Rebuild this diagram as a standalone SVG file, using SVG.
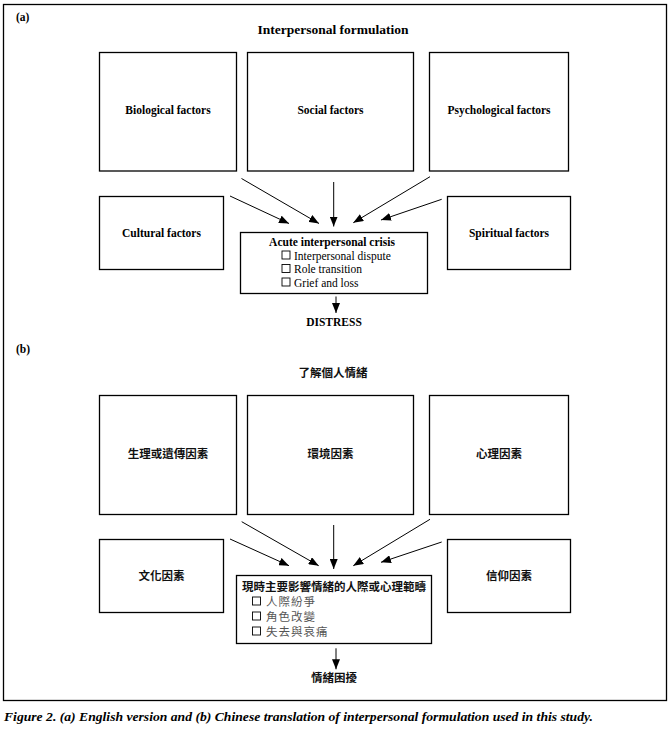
<svg xmlns="http://www.w3.org/2000/svg" width="671" height="730" viewBox="0 0 671 730">
<defs>
<marker id="ah" markerWidth="10" markerHeight="8" refX="10" refY="4" orient="auto" markerUnits="userSpaceOnUse">
<path d="M0,0 L10,4 L0,8 Z" fill="#000"/>
</marker>
<style>
.box{fill:#fff;stroke:#000;stroke-width:1.3}
.frame{fill:none;stroke:#000;stroke-width:1.3}
.en{font-family:"Liberation Serif","Times New Roman",serif;font-size:11.5px;fill:#000}
.b{font-weight:bold}
.ttl{font-family:"Liberation Serif","Times New Roman",serif;font-size:13.5px;font-weight:bold;text-anchor:middle}
.lbl{font-family:"Liberation Serif","Times New Roman",serif;font-size:11.5px;font-weight:bold;text-anchor:middle}
.zh{font-family:"Noto Sans CJK TC","Noto Sans CJK SC",sans-serif;font-size:11.5px;font-weight:bold;text-anchor:middle;fill:#111}
.zhi{font-family:"Noto Sans CJK TC","Noto Sans CJK SC",sans-serif;font-size:11.5px;fill:#555;letter-spacing:1px}
.cb{fill:none;stroke:#000;stroke-width:0.9}
.conn line{stroke:#000;stroke-width:1;marker-end:url(#ah)}
.cap{font-family:"Liberation Serif","Times New Roman",serif;font-size:13px;font-style:italic;font-weight:bold}
</style>
</defs>
<rect class="frame" x="3.5" y="4.5" width="663" height="696"/>

<!-- (a) English -->
<text class="en b" x="16" y="21" font-size="12">(a)</text>
<text class="ttl" x="333" y="34">Interpersonal formulation</text>

<g id="a-bio"><rect class="box" x="99.5" y="52.5" width="137" height="118.5"/><text class="lbl" x="168" y="114">Biological factors</text></g>
<g id="a-social"><rect class="box" x="247.5" y="52.5" width="166" height="118.5"/><text class="lbl" x="330.5" y="114">Social factors</text></g>
<g id="a-psych"><rect class="box" x="429.5" y="52.5" width="139" height="118.5"/><text class="lbl" x="499" y="114">Psychological factors</text></g>
<g id="a-cultural"><rect class="box" x="99.5" y="196.5" width="124" height="73"/><text class="lbl" x="161.5" y="237">Cultural factors</text></g>
<g id="a-spiritual"><rect class="box" x="447.5" y="196.5" width="123" height="73"/><text class="lbl" x="509" y="237">Spiritual factors</text></g>
<g id="a-crisis">
<rect class="box" x="240.5" y="232.5" width="187" height="61"/>
<text class="lbl" x="332" y="245.5">Acute interpersonal crisis</text>
<rect class="cb" x="282" y="251" width="8" height="8"/><text class="en" x="293" y="259.5"><tspan fill="none" font-size="1">☐</tspan>Interpersonal dispute</text>
<rect class="cb" x="282" y="264.5" width="8" height="8"/><text class="en" x="293" y="273"><tspan fill="none" font-size="1">☐</tspan>Role transition</text>
<rect class="cb" x="282" y="278" width="8" height="8"/><text class="en" x="293" y="286.5"><tspan fill="none" font-size="1">☐</tspan>Grief and loss</text>
</g>
<g id="a-distress"><text class="lbl" x="334" y="326">DISTRESS</text></g>

<g id="a-connectors" class="conn">
<line x1="230" y1="196" x2="289" y2="223.5"/>
<line x1="241.5" y1="178.5" x2="319" y2="223.5"/>
<line x1="333.7" y1="182" x2="333.7" y2="226.5"/>
<line x1="430" y1="176.7" x2="353.3" y2="222.7"/>
<line x1="441.7" y1="199.3" x2="381" y2="220"/>
<line x1="336" y1="296.5" x2="336" y2="313"/>
</g>

<!-- (b) Chinese -->
<text class="en b" x="16" y="353" font-size="12">(b)</text>
<text class="zh" x="333" y="377" font-size="13.3">了解個人情緒</text>

<g id="b-bio"><rect class="box" x="99.5" y="395.5" width="137" height="119"/><text class="zh" x="168" y="458">生理或遺傳因素</text></g>
<g id="b-social"><rect class="box" x="247.5" y="395.5" width="166" height="119"/><text class="zh" x="330.5" y="458">環境因素</text></g>
<g id="b-psych"><rect class="box" x="429.5" y="395.5" width="139" height="119"/><text class="zh" x="499" y="458">心理因素</text></g>
<g id="b-cultural"><rect class="box" x="99.5" y="539.5" width="124" height="73"/><text class="zh" x="161.5" y="580">文化因素</text></g>
<g id="b-spiritual"><rect class="box" x="447.5" y="539.5" width="123" height="73"/><text class="zh" x="509" y="580">信仰因素</text></g>
<g id="b-crisis">
<rect class="box" x="236.5" y="575.5" width="195" height="68"/>
<text class="zh" x="334" y="591" font-size="12.2">現時主要影響情緒的人際或心理範疇</text>
<rect class="cb" x="252.5" y="597" width="8" height="8"/><text class="zhi" x="264" y="605.5"><tspan fill="none" font-size="1">☐</tspan>人際紛爭</text>
<rect class="cb" x="252.5" y="612" width="8" height="8"/><text class="zhi" x="264" y="620.5"><tspan fill="none" font-size="1">☐</tspan>角色改變</text>
<rect class="cb" x="252.5" y="627" width="8" height="8"/><text class="zhi" x="264" y="635.5"><tspan fill="none" font-size="1">☐</tspan>失去與哀痛</text>
</g>
<g id="b-distress"><text class="zh" x="334" y="682">情緒困擾</text></g>

<g id="b-connectors" class="conn">
<line x1="230" y1="539" x2="289" y2="565.7"/>
<line x1="241.7" y1="521.7" x2="318.7" y2="565.7"/>
<line x1="333.7" y1="525" x2="333.7" y2="569"/>
<line x1="430" y1="519.3" x2="353.3" y2="565.7"/>
<line x1="441.7" y1="542" x2="381" y2="562.3"/>
<line x1="336" y1="648.3" x2="336" y2="669.3"/>
</g>

<text class="cap" x="4" y="721" textLength="589" lengthAdjust="spacingAndGlyphs">Figure 2.  (a) English version and (b) Chinese translation of interpersonal formulation used in this study.</text>
</svg>
